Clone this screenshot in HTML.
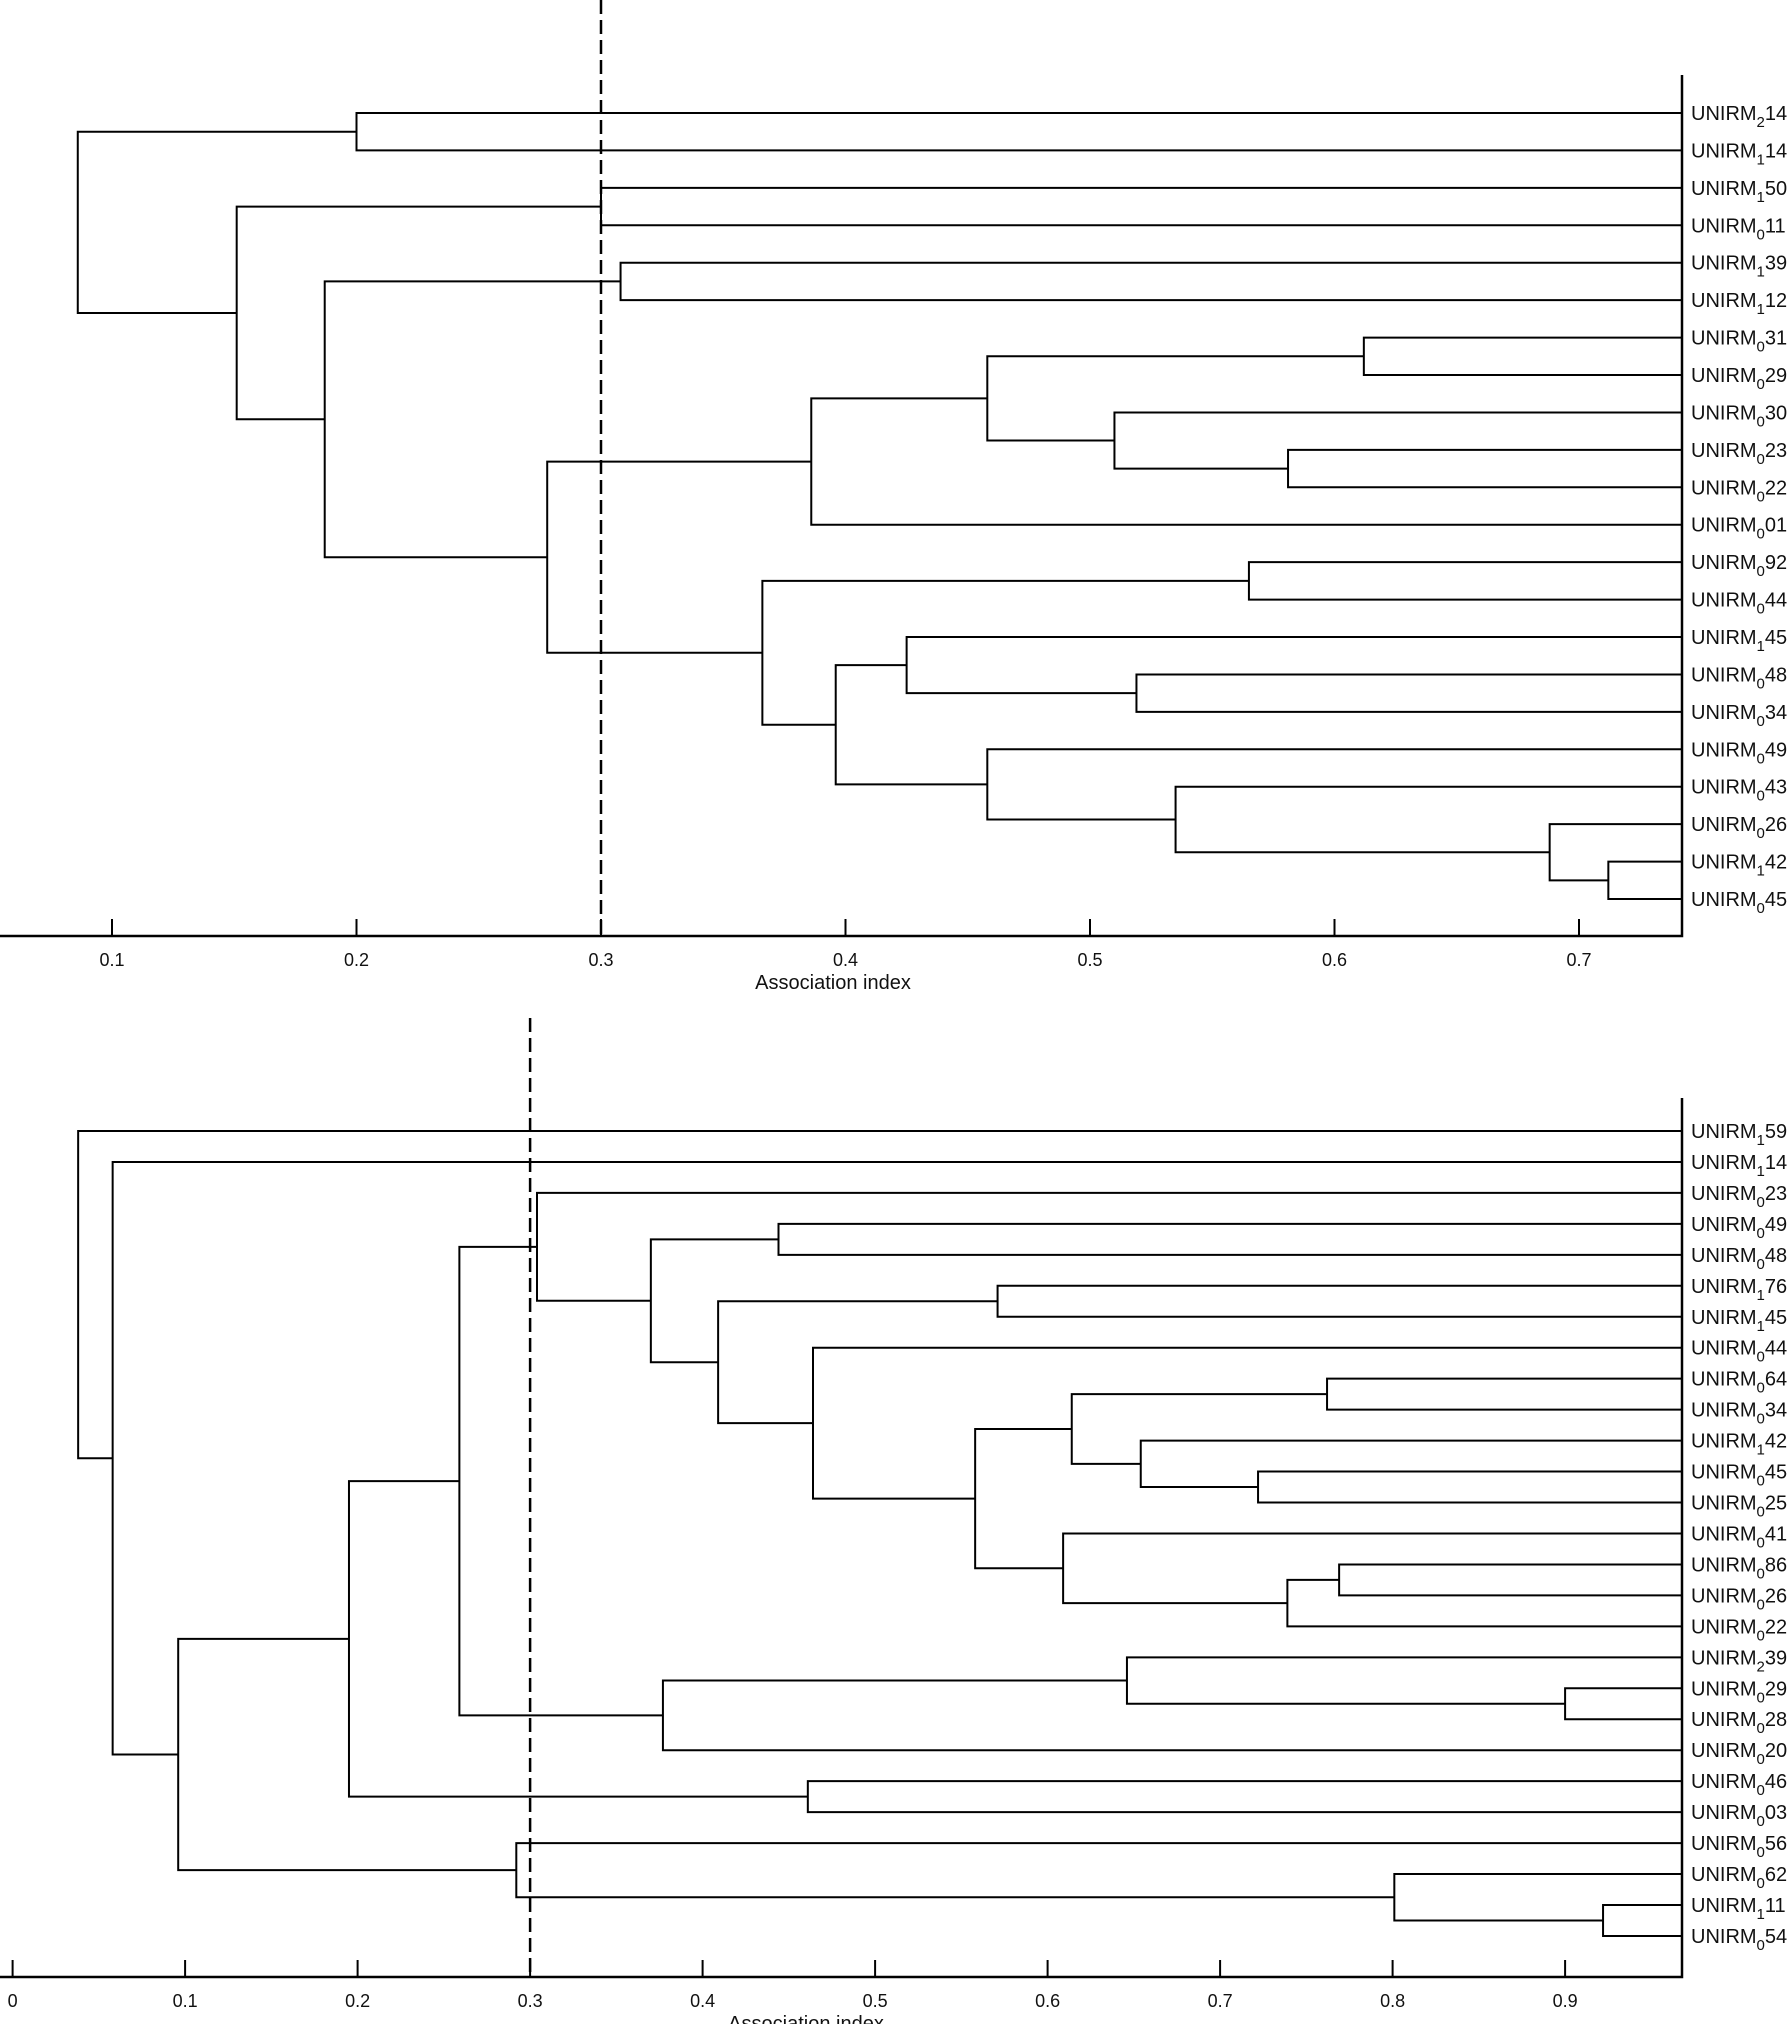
<!DOCTYPE html>
<html><head><meta charset="utf-8"><style>
html,body{margin:0;padding:0;background:#fff;}
svg{display:block;font-family:"Liberation Sans",Arial,sans-serif;}
</style></head><body>
<svg id="chart" width="1791" height="2024" viewBox="0 0 1791 2024" xmlns="http://www.w3.org/2000/svg"></svg>
<script>
// ---------- Top dendrogram data (leaves 0..21, merges 22..) ----------
const topLeafSubs = ["2","1","1","0","1","1","0","0","0","0","0","0","0","0","1","0","0","0","0","0","1","0"];
const topLeafNums = ["14","14","50","11","39","12","31","29","30","23","22","01","92","44","45","48","34","49","43","26","42","45"];
const topMergeLeft  = [0,2,4,6,9,8,25,28,12,15,14,20,19,18,17,32,30,29,24,23,22];
const topMergeRight = [1,3,5,7,10,26,27,11,13,16,31,21,33,34,35,36,37,38,39,40,41];
const topMergeHeight = [0.2,0.3,0.308,0.612,0.581,0.51,0.458,0.386,0.565,0.519,0.425,0.712,0.688,0.535,0.458,0.396,0.366,0.278,0.187,0.151,0.086];
const topTicks = [0.1,0.2,0.3,0.4,0.5,0.6,0.7];
const topCut = 0.3;

// ---------- Bottom dendrogram data (leaves 0..26, merges 27..) ----------
const botLeafSubs = ["1","1","0","0","0","1","1","0","0","0","1","0","0","0","0","0","0","2","0","0","0","0","0","0","0","1","0"];
const botLeafNums = ["59","14","23","49","48","76","45","44","64","34","42","45","25","41","86","26","22","39","29","28","20","46","03","56","62","11","54"];
const botMergeLeft  = [3,5,8,11,10,29,14,33,13,32,7,28,27,2,18,17,42,40,21,44,25,24,23,46,1,0];
const botMergeRight = [4,6,9,12,30,31,15,16,34,35,36,37,38,39,19,41,20,43,22,45,26,47,48,49,50,51];
const botMergeHeight = [0.444,0.571,0.762,0.722,0.654,0.614,0.769,0.739,0.609,0.558,0.464,0.409,0.370,0.304,0.9,0.646,0.377,0.259,0.461,0.195,0.922,0.801,0.292,0.096,0.058,0.038];
const botTicks = [0,0.1,0.2,0.3,0.4,0.5,0.6,0.7,0.8,0.9];
const botCut = 0.3;
</script>
<script>
const NS="http://www.w3.org/2000/svg";
const svg=document.getElementById('chart');
function mk(tag,attrs,parent){const e=document.createElementNS(NS,tag);for(const k in attrs)e.setAttribute(k,attrs[k]);(parent||svg).appendChild(e);return e;}

function drawDendro(cfg){
  const g=mk('g',{});
  
  
  const n=cfg.subs.length;
  const xs=v=>cfg.x0+(v-cfg.v0)*cfg.pxPer;
  const rowY=i=>cfg.yTop+i*cfg.rowStep;
  const nodeX=[],nodeY=[];
  for(let i=0;i<n;i++){nodeX.push(cfg.axisX);nodeY.push(rowY(i));}
  const st={stroke:'#000','stroke-width':2,fill:'none'};
  for(let i=0;i<n;i++){
    const t=mk('text',{x:cfg.axisX+9,y:rowY(i)+7,'font-size':20,fill:'#111'},g);
    
    
    t.appendChild(document.createTextNode('UNIRM'));
    const s=mk('tspan',{dy:7,'font-size':15},t);s.textContent=cfg.subs[i];
    const r=mk('tspan',{dy:-7},t);r.textContent=cfg.nums[i];
  }
  for(let k=0;k<cfg.L.length;k++){
    const a=cfg.L[k],b=cfg.R[k],h=cfg.H[k];
    const x=xs(h);
    const ya=nodeY[a],yb=nodeY[b];
    const p=mk('path',Object.assign({d:`M${nodeX[a]},${ya}H${x}V${yb}H${nodeX[b]}`},st),g);
    
    
    nodeX.push(x);nodeY.push((ya+yb)/2);
  }
  const ax=mk('path',{d:`M0,${cfg.axisY}H${cfg.axisX}V${cfg.axisTop}`,stroke:'#000','stroke-width':2.5,fill:'none'},g);
  
  
  cfg.ticks.forEach(v=>{
    const x=xs(v);
    const tk=mk('line',{x1:x,x2:x,y1:cfg.axisY,y2:cfg.axisY-17,stroke:'#000','stroke-width':2},g);
    
    
    const tl=mk('text',{x:x,y:cfg.axisY+30,'font-size':18,'text-anchor':'middle',fill:'#111'},g);
    
    
    tl.textContent=String(v);
  });
  const tt=mk('text',{x:cfg.titleX,y:cfg.titleY,'font-size':20,'text-anchor':'middle',fill:'#111'},g);
  
  
  tt.textContent='Association index';
  const cx=xs(cfg.cut);
  const dl=mk('line',{x1:cx,x2:cx,y1:cfg.cutTop,y2:cfg.axisY,stroke:'#000','stroke-width':2.5,'stroke-dasharray':'14,6'},g);
  
  
}

drawDendro({name:'top-dendrogram',subs:topLeafSubs,nums:topLeafNums,L:topMergeLeft,R:topMergeRight,H:topMergeHeight,
  x0:112,v0:0.1,pxPer:2445,yTop:113,rowStep:37.43,axisX:1682,axisY:936,axisTop:75,
  ticks:topTicks,cut:topCut,cutTop:0,titleX:833,titleY:989});
drawDendro({name:'bottom-dendrogram',subs:botLeafSubs,nums:botLeafNums,L:botMergeLeft,R:botMergeRight,H:botMergeHeight,
  x0:12.6,v0:0,pxPer:1725,yTop:1131,rowStep:30.96,axisX:1682,axisY:1977,axisTop:1098,
  ticks:botTicks,cut:botCut,cutTop:1018,titleX:806,titleY:2030});
</script>
</body></html>
